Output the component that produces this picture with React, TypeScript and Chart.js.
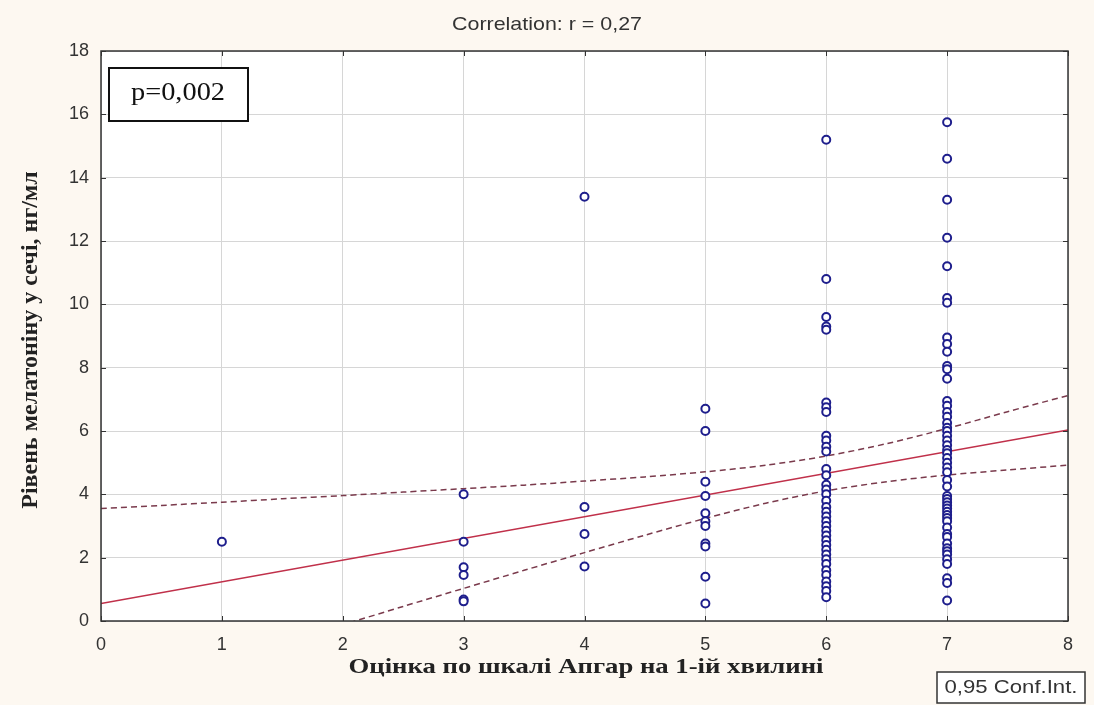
import React, { useEffect, useRef } from "react";
import { Chart, registerables } from "chart.js";

Chart.register(...registerables);

const titleText = "Correlation: r = 0,27";
const xAxisTitle = "Оцінка по шкалі Апгар на 1-ій хвилині";
const yAxisTitle = "Рівень мелатоніну у сечі, нг/мл";
const pText = "p=0,002";
const ciText = "0,95 Conf.Int.";

const xTicks = [0, 1, 2, 3, 4, 5, 6, 7, 8];
const yTicks = [0, 2, 4, 6, 8, 10, 12, 14, 16, 18];

// melatonin values per Apgar score
const apgar1 = [2.5];
const apgar3 = [4.0, 2.5, 1.7, 1.45, 0.68, 0.62];
const apgar4 = [13.4, 3.6, 2.75, 1.72];
const apgar5 = [6.7, 6.0, 4.4, 3.95, 3.4, 3.15, 3.0, 2.45, 2.35, 1.4, 0.55];
const apgar6 = [15.2, 10.8, 9.6, 9.3, 9.2, 6.9, 6.75, 6.6, 5.85, 5.7, 5.5, 5.35, 4.8, 4.6, 4.3, 4.15, 4.0, 3.8, 3.6, 3.45, 3.3, 3.15, 3.0, 2.85, 2.7, 2.55, 2.4, 2.25, 2.1, 1.95, 1.8, 1.6, 1.45, 1.25, 1.1, 0.95, 0.75];
const apgar7 = [15.75, 14.6, 13.3, 12.1, 11.2, 10.2, 10.05, 8.95, 8.75, 8.5, 8.05, 7.95, 7.65, 6.95, 6.8, 6.6, 6.45, 6.25, 6.1, 6.0, 5.85, 5.7, 5.55, 5.4, 5.3, 5.15, 5.0, 4.85, 4.7, 4.45, 4.25, 3.95, 3.85, 3.75, 3.65, 3.55, 3.45, 3.35, 3.25, 3.15, 2.95, 2.75, 2.65, 2.45, 2.3, 2.2, 2.1, 1.95, 1.8, 1.35, 1.2, 0.65];

const groups: [number, number[]][] = [
  [1, apgar1],
  [3, apgar3],
  [4, apgar4],
  [5, apgar5],
  [6, apgar6],
  [7, apgar7],
];

// regression line
const fitX = [0, 8];
const fitY = [0.55, 6.03];

// confidence band
const ciX = [0, 0.5, 1, 1.5, 2, 2.5, 3, 3.5, 4, 4.5, 5, 5.5, 6, 6.5, 7, 7.5, 8];
const ciUpper = [3.55, 3.65, 3.75, 3.86, 3.96, 4.07, 4.18, 4.29, 4.42, 4.55, 4.71, 4.92, 5.21, 5.6, 6.08, 6.61, 7.12];
const ciLower = [-2.45, -1.87, -1.29, -0.7, -0.12, 0.46, 1.03, 1.6, 2.16, 2.71, 3.24, 3.72, 4.11, 4.4, 4.61, 4.77, 4.92];

const CREAM = "#fdf8f1";
const SANS = "'Liberation Sans', Arial, sans-serif";
const SERIF = "'Liberation Serif', 'Times New Roman', serif";

function stretchText(ctx: CanvasRenderingContext2D, text: string, cx: number, cy: number, font: string, width: number) {
  ctx.font = font;
  const w = ctx.measureText(text).width;
  const s = width / w;
  ctx.save();
  ctx.translate(cx, cy);
  ctx.scale(s, 1);
  ctx.textAlign = "center";
  ctx.textBaseline = "middle";
  ctx.fillText(text, 0, 0);
  ctx.restore();
}

const decorPlugin = {
  id: "decor",
  beforeDraw(chart: any) {
    const { ctx, chartArea: a } = chart;
    ctx.save();
    ctx.fillStyle = CREAM;
    ctx.fillRect(0, 0, chart.width, chart.height);
    ctx.fillStyle = "#ffffff";
    ctx.fillRect(a.left, a.top, a.right - a.left, a.bottom - a.top);
    ctx.restore();
  },
  afterDraw(chart: any) {
    const { ctx, chartArea: a, scales } = chart;
    const xs = scales.x;
    const ys = scales.y;
    ctx.save();
    // frame
    ctx.strokeStyle = "#333333";
    ctx.lineWidth = 1.5;
    ctx.strokeRect(a.left, a.top, a.right - a.left, a.bottom - a.top);
    // inner ticks
    ctx.lineWidth = 1;
    ctx.beginPath();
    xTicks.forEach((v) => {
      const px = Math.round(xs.getPixelForValue(v)) + 0.5;
      ctx.moveTo(px, a.bottom);
      ctx.lineTo(px, a.bottom - 5);
      ctx.moveTo(px, a.top);
      ctx.lineTo(px, a.top + 5);
    });
    yTicks.forEach((v) => {
      const py = Math.round(ys.getPixelForValue(v)) + 0.5;
      ctx.moveTo(a.left, py);
      ctx.lineTo(a.left + 5, py);
      ctx.moveTo(a.right, py);
      ctx.lineTo(a.right - 5, py);
    });
    ctx.stroke();

    // title
    ctx.fillStyle = "#333333";
    stretchText(ctx, titleText, 547, 25, "19px " + SANS, 190);

    // axis titles
    ctx.fillStyle = "#222222";
    stretchText(ctx, xAxisTitle, 586, 667, "bold 22px " + SERIF, 475);
    ctx.save();
    ctx.translate(31, 340);
    ctx.rotate(-Math.PI / 2);
    ctx.font = "bold 24px " + SERIF;
    ctx.textAlign = "center";
    ctx.textBaseline = "middle";
    ctx.fillText(yAxisTitle, 0, 0);
    ctx.restore();

    // p box
    ctx.fillStyle = "#ffffff";
    ctx.fillRect(109, 68, 139, 53);
    ctx.strokeStyle = "#111111";
    ctx.lineWidth = 2;
    ctx.strokeRect(109, 68, 139, 53);
    ctx.fillStyle = "#111111";
    stretchText(ctx, pText, 178, 93, "25px " + SERIF, 94);

    // conf int box
    ctx.fillStyle = "#ffffff";
    ctx.fillRect(937, 672, 148, 31);
    ctx.strokeStyle = "#333333";
    ctx.lineWidth = 1.5;
    ctx.strokeRect(937, 672, 148, 31);
    ctx.fillStyle = "#333333";
    stretchText(ctx, ciText, 1011, 688, "19px " + SANS, 133);
    ctx.restore();
  },
};

export default function App() {
  const ref = useRef<HTMLCanvasElement>(null);

  useEffect(() => {
    if (!ref.current) return;
    const points: { x: number; y: number }[] = [];
    groups.forEach(([x, vals]) => vals.forEach((y) => points.push({ x, y })));

    const chart = new Chart(ref.current, {
      type: "scatter",
      data: {
        datasets: [
          {
            label: "data",
            data: points,
            pointRadius: 4,
            pointBorderWidth: 2,
            pointBorderColor: "#1e1e8c",
            pointBackgroundColor: "#ffffff",
            showLine: false,
            order: 0,
          },
          {
            label: "fit",
            data: fitX.map((x, i) => ({ x, y: fitY[i] })),
            showLine: true,
            borderColor: "#c0304a",
            borderWidth: 1.5,
            pointRadius: 0,
            order: 1,
          },
          {
            label: "upper",
            data: ciX.map((x, i) => ({ x, y: ciUpper[i] })),
            showLine: true,
            borderColor: "#7a3a4c",
            borderWidth: 1.5,
            borderDash: [6, 4],
            pointRadius: 0,
            tension: 0.3,
            order: 1,
          },
          {
            label: "lower",
            data: ciX.map((x, i) => ({ x, y: ciLower[i] })),
            showLine: true,
            borderColor: "#7a3a4c",
            borderWidth: 1.5,
            borderDash: [6, 4],
            pointRadius: 0,
            tension: 0.3,
            order: 1,
          },
        ],
      },
      options: {
        responsive: false,
        animation: false,
        layout: { padding: { top: 51, right: 26, left: 0, bottom: 0 } },
        plugins: { legend: { display: false }, title: { display: false }, tooltip: { enabled: false } },
        scales: {
          x: {
            type: "linear",
            min: 0,
            max: 8,
            afterFit: (s: any) => {
              s.height = 84;
            },
            afterBuildTicks: (s: any) => {
              s.ticks = xTicks.map((v) => ({ value: v }));
            },
            ticks: {
              color: "#333333",
              font: { family: SANS, size: 18 },
              padding: 13,
              maxRotation: 0,
            },
            grid: { color: "#d6d6d6", lineWidth: 1, drawTicks: false },
            border: { display: false },
          },
          y: {
            type: "linear",
            min: 0,
            max: 18,
            afterFit: (s: any) => {
              s.width = 101;
            },
            afterBuildTicks: (s: any) => {
              s.ticks = yTicks.map((v) => ({ value: v }));
            },
            ticks: {
              color: "#333333",
              font: { family: SANS, size: 18 },
              padding: 12,
            },
            grid: { color: "#d6d6d6", lineWidth: 1, drawTicks: false },
            border: { display: false },
          },
        },
      },
      plugins: [decorPlugin],
    } as any);
    return () => chart.destroy();
  }, []);

  return (
    <div style={{ position: "absolute", left: 0, top: 0, width: 1094, height: 705, background: CREAM }}>
      <canvas ref={ref} width={1094} height={705} style={{ display: "block" }} />
    </div>
  );
}
